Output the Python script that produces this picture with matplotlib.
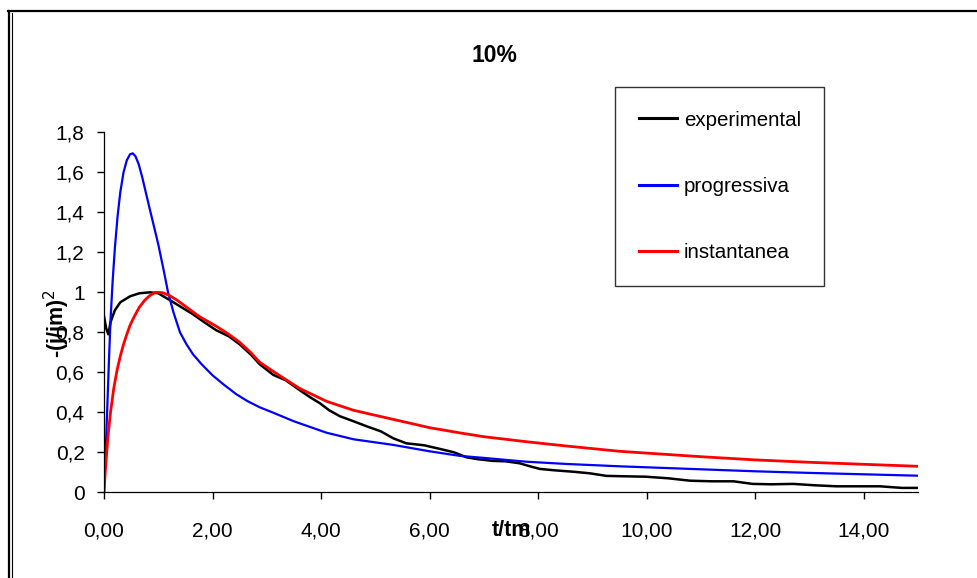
import matplotlib.pyplot as plt
from matplotlib.lines import Line2D
from matplotlib.ticker import FixedLocator, FixedFormatter

plt.rcParams['font.family'] = ['Liberation Sans', 'DejaVu Sans']

# curva experimental (t/tm, (j/jm)^2)
t_exp = [0, 0.04, 0.08, 0.12, 0.2, 0.3, 0.48, 0.65, 0.85, 1.0, 1.22, 1.4, 1.64, 1.85, 2.07,
         2.3, 2.5, 2.7, 2.87, 3.12, 3.35, 3.61, 3.8, 3.98, 4.15, 4.35, 4.6, 4.84, 5.1, 5.33,
         5.57, 5.9, 6.19, 6.45, 6.68, 6.9, 7.17, 7.4, 7.66, 7.85, 8.03, 8.3, 8.64, 8.95, 9.26,
         9.6, 9.98, 10.4, 10.8, 11.2, 11.6, 11.95, 12.3, 12.7, 13.1, 13.5, 13.9, 14.3, 14.7, 15.0]
j_exp = [0.88, 0.82, 0.79, 0.85, 0.91, 0.95, 0.98, 0.995, 1.0, 0.995, 0.96, 0.93, 0.89, 0.85, 0.81,
         0.78, 0.74, 0.69, 0.64, 0.587, 0.56, 0.51, 0.475, 0.445, 0.41, 0.38, 0.355, 0.33, 0.305, 0.27,
         0.245, 0.235, 0.217, 0.2, 0.175, 0.165, 0.157, 0.155, 0.145, 0.13, 0.117, 0.11, 0.103, 0.095, 0.082,
         0.08, 0.078, 0.07, 0.058, 0.055, 0.055, 0.042, 0.04, 0.042, 0.035, 0.03, 0.03, 0.03, 0.022, 0.022]

# modelo nucleacao progressiva
t_prog = [0, 0.03, 0.06, 0.09, 0.12, 0.16, 0.2, 0.25, 0.3, 0.36, 0.42, 0.48, 0.53, 0.58, 0.64,
          0.70, 0.77, 0.84, 0.92, 1.0, 1.1, 1.18, 1.28, 1.4, 1.52, 1.64, 1.8, 2.0, 2.2, 2.44,
          2.65, 2.87, 3.1, 3.5, 4.1, 4.6, 5.33, 6.0, 6.56, 7.0, 7.78, 8.5, 9.5, 10, 11, 12, 13, 14, 15]
j_prog = [0, 0.2, 0.42, 0.65, 0.86, 1.06, 1.22, 1.38, 1.5, 1.6, 1.66, 1.69, 1.695, 1.68, 1.64,
          1.58, 1.5, 1.42, 1.33, 1.24, 1.11, 1.0, 0.9, 0.8, 0.74, 0.69, 0.64, 0.585, 0.54, 0.49,
          0.455, 0.425, 0.4, 0.355, 0.298, 0.265, 0.237, 0.205, 0.182, 0.172, 0.153, 0.142,
          0.13, 0.125, 0.115, 0.105, 0.097, 0.09, 0.083]

# modelo nucleacao instantanea
t_inst = [0, 0.03, 0.07, 0.12, 0.18, 0.24, 0.3, 0.36, 0.42, 0.48, 0.56, 0.65, 0.75, 0.85, 0.95,
          1.08, 1.2, 1.35, 1.5, 1.75, 2.07, 2.3, 2.5, 2.7, 2.87, 3.2, 3.6, 4.1, 4.6, 5.08, 5.6,
          6.0, 6.56, 7.0, 7.78, 8.5, 9.5, 10, 11, 12, 13, 14, 15]
j_inst = [0, 0.13, 0.27, 0.4, 0.52, 0.61, 0.68, 0.74, 0.79, 0.835, 0.88, 0.925, 0.96, 0.985, 1.0,
          0.998, 0.985, 0.96, 0.93, 0.88, 0.83, 0.79, 0.75, 0.7, 0.65, 0.59, 0.52, 0.455, 0.41,
          0.38, 0.348, 0.323, 0.297, 0.278, 0.253, 0.232, 0.205, 0.196, 0.178, 0.162, 0.15, 0.14, 0.13]

x_ticks = [0, 2, 4, 6, 8, 10, 12, 14]
x_labels = ['0,00', '2,00', '4,00', '6,00', '8,00', '10,00', '12,00', '14,00']
y_ticks = [0, 0.2, 0.4, 0.6, 0.8, 1.0, 1.2, 1.4, 1.6, 1.8]
y_labels = ['0', '0,2', '0,4', '0,6', '0,8', '1', '1,2', '1,4', '1,6', '1,8']

fig = plt.figure(figsize=(9.77, 5.78), dpi=100)
W, H = 977, 578
ax = fig.add_axes([104 / W, 1 - 492.3 / H, 814 / W, 360 / H])

ax.plot(t_exp, j_exp, color='black', lw=1.8, label='experimental')
ax.plot(t_prog, j_prog, color='#0000ff', lw=1.6, label='progressiva')
ax.plot(t_inst, j_inst, color='#ff0000', lw=2.0, label='instantanea')

ax.set_xlim(0, 15)
ax.set_ylim(0, 1.8)
ax.xaxis.set_major_locator(FixedLocator(x_ticks))
ax.xaxis.set_major_formatter(FixedFormatter(x_labels))
ax.yaxis.set_major_locator(FixedLocator(y_ticks))
ax.yaxis.set_major_formatter(FixedFormatter(y_labels))
ax.tick_params(axis='both', direction='out', length=5, width=1, labelsize=15, colors='black')
ax.tick_params(axis='x', pad=16)
ax.tick_params(axis='y', pad=9)

for side in ['top', 'right']:
    ax.spines[side].set_visible(False)
for side in ['left', 'bottom']:
    ax.spines[side].set_linewidth(0.9)

# titulo centrado acima da area do grafico
ax.set_title('10%', fontsize=16.5, fontweight='bold', pad=0, va='center',
             x=0.48, y=1 + (132.3 - 55) / 360)

ax.set_xlabel('t/tm', fontsize=15.5, fontweight='bold', va='center')
ax.xaxis.set_label_coords(0.5, -0.107)
ax.set_ylabel('-(j/jm)$^2$', fontsize=15.5, fontweight='bold', va='center')
ax.yaxis.set_label_coords(-0.058, 0.47)

leg = ax.legend(loc='upper left', bbox_to_anchor=(615 / W, 1 - 87 / H),
                bbox_transform=fig.transFigure, fontsize=14.8, frameon=True,
                fancybox=False, shadow=False, borderpad=1.15, labelspacing=2.3,
                handlelength=1.85, handletextpad=0.34, borderaxespad=0)
leg.get_frame().set_edgecolor('black')
leg.get_frame().set_linewidth(1.0)
for h in leg.get_lines():
    h.set_linewidth(2.2)

# moldura externa do grafico
fig.add_artist(Line2D([8 / W, 1.0], [1 - 11 / H, 1 - 11 / H], color='black', lw=1.6))
fig.add_artist(Line2D([9 / W, 9 / W], [1 - 11 / H, 0], color='black', lw=1.6))
fig.add_artist(Line2D([11.5 / W, 11.5 / W], [1 - 13 / H, 0], color='black', lw=0.8))

fig.savefig('out.png', dpi=100)
